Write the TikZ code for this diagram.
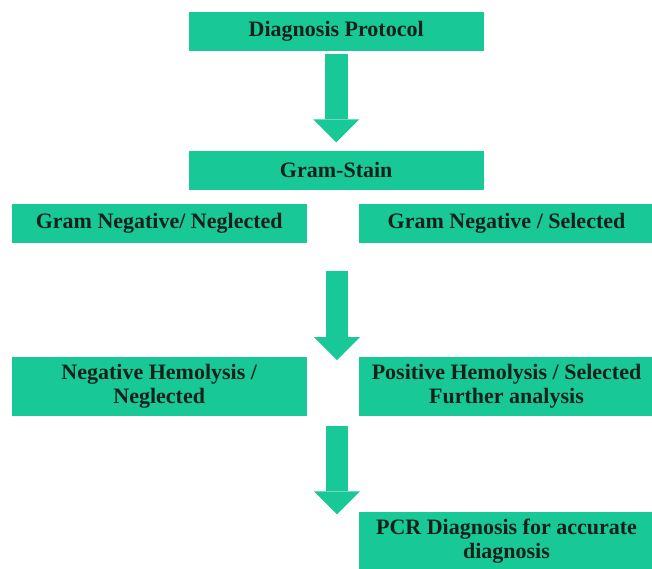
\documentclass[tikz,border=0pt]{standalone}
\usepackage{fontspec}
\setmainfont{Liberation Serif}
\usetikzlibrary{arrows.meta}
\definecolor{boxgreen}{RGB}{24,201,151}
\definecolor{boxtext}{RGB}{18,34,26}
\tikzset{
	box/.style={fill=boxgreen,text=boxtext,font=\bfseries\fontsize{22}{24}\selectfont,align=center,minimum width=295pt,minimum height=39pt,inner sep=0pt},
	tallbox/.style={box,minimum height=59.3pt},
	blockarrow/.style={boxgreen,line width=22.6pt,-{Triangle[length=23pt,width=46pt,line width=0pt]}}
}
\begin{document}
\begin{tikzpicture}[x=1pt,y=-1pt]
	\useasboundingbox (0,0) rectangle (652,568);
	\clip (0,0) rectangle (652,568);
	\node[box] (protocol) at (336.2,31.2) {Diagnosis Protocol};
	\node[box] (gram) at (336.2,170) {Gram-Stain};
	\node[box] (negneglect) at (159.2,223.3) {Gram Negative/ Neglected};
	\node[box] (negselect) at (506.5,223.3) {Gram Negative / Selected};
	\node[tallbox] (hemoneg) at (159.2,386.3) {Negative Hemolysis /\\Neglected};
	\node[tallbox] (hemopos) at (506.5,386.3) {Positive Hemolysis / Selected\\Further analysis};
	\node[tallbox] (pcr) at (506.5,541.6) {PCR Diagnosis for accurate\\diagnosis};
	\coordinate (split) at (337,270.7);
	\coordinate (hemotip) at (337,360);
	\coordinate (further) at (337,426);
	\coordinate (pcrtip) at (337,514.3);
	\draw[blockarrow,shorten <=2.6pt,shorten >=8pt] (protocol) -- (gram);
	\draw[blockarrow] (split) -- (hemotip);
	\draw[blockarrow] (further) -- (pcrtip);
\end{tikzpicture}
\end{document}
